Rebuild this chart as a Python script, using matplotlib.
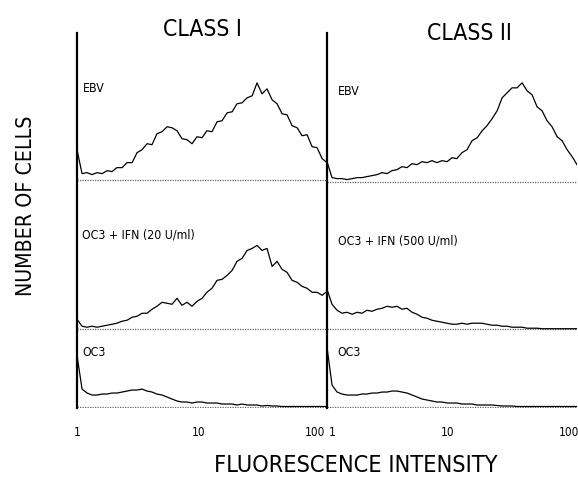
import matplotlib
matplotlib.use("Agg")
import matplotlib.pyplot as plt

plt.rcParams['font.family'] = ['DejaVu Sans']
plt.rcParams['font.stretch'] = 'condensed'

# fluorescence channels (log scale, 1 .. ~114)
fluor = [1.00, 1.10, 1.21, 1.33, 1.46, 1.61, 1.77, 1.94, 2.13, 2.35,
         2.58, 2.84, 3.12, 3.43, 3.77, 4.14, 4.55, 5.01, 5.51, 6.05,
         6.65, 7.31, 8.04, 8.84, 9.72, 10.7, 11.7, 12.9, 14.2, 15.6,
         17.2, 18.9, 20.7, 22.8, 25.1, 27.6, 30.3, 33.3, 36.6, 40.3,
         44.3, 48.7, 53.5, 58.8, 64.7, 71.1, 78.2, 86.0, 94.5, 104, 114]

# number of cells (arbitrary units), class I column
ebv_1 = [30, 6, 7, 5, 7, 6, 9, 8, 12, 12, 17, 17, 27, 30, 36, 35, 46, 48, 53, 52,
         49, 41, 40, 36, 43, 42, 49, 48, 58, 59, 67, 68, 76, 77, 82, 84, 97, 86, 91, 80,
         76, 66, 65, 54, 52, 44, 45, 33, 32, 21, 17]
ifn20_1 = [10, 3, 2, 3, 2, 3, 4, 5, 6, 8, 9, 12, 13, 16, 16, 20, 23, 27, 26, 25,
           31, 24, 27, 23, 28, 31, 37, 41, 49, 50, 54, 59, 68, 71, 79, 81, 84, 79, 81, 63,
           68, 60, 57, 49, 47, 43, 41, 37, 37, 34, 38]
oc3_1 = [52, 18, 14, 12, 12, 13, 13, 14, 14, 15, 16, 17, 17, 18, 16, 15, 13, 12, 10, 8,
         6, 5, 5, 4, 5, 5, 4, 4, 4, 3, 3, 3, 2, 3, 2, 2, 2, 1, 1.5, 1,
         1, 0.5, 0.5, 0.5, 0.5, 0.5, 0.5, 0.5, 0.5, 0.5, 0.5]

# class II column
ebv_2 = [20, 4, 3, 3, 2, 3, 4, 4, 5, 6, 7, 9, 8, 11, 12, 15, 14, 18, 17, 20,
         19, 21, 19, 21, 20, 24, 23, 29, 32, 41, 44, 51, 56, 63, 71, 84, 89, 94, 94, 99,
         91, 87, 75, 71, 61, 55, 45, 41, 32, 25, 17]
ifn500_2 = [40, 25, 19, 16, 17, 15, 17, 16, 19, 18, 20, 21, 23, 22, 23, 20, 21, 17, 15, 12,
            11, 9, 8, 7, 6, 5, 5, 6, 5, 6, 6, 6, 5, 4, 4, 3, 3, 2, 2, 2,
            1, 1, 1, 0.5, 0.5, 0.5, 0.5, 0.5, 0.5, 0.5, 0.5]
oc3_2 = [60, 22, 15, 13, 12, 12, 12, 13, 13, 14, 14, 15, 15, 16, 16, 15, 14, 12, 10, 8,
         7, 6, 5, 5, 4, 4, 4, 3, 3, 3, 2, 2, 2, 2, 1.5, 1, 1, 1, 0.5, 0.5,
         0.5, 0.5, 0.5, 0.5, 0.5, 0.5, 0.5, 0.5, 0.5, 0.5, 0.5]

titles = ["CLASS I", "CLASS II"]
row_labels = [["EBV", "OC3 + IFN (20 U/ml)", "OC3"],
              ["EBV", "OC3 + IFN (500 U/ml)", "OC3"]]
tick_text = ["1", "10", "100"]
series = [[ebv_1, ifn20_1, oc3_1], [ebv_2, ifn500_2, oc3_2]]
offsets = [[228, 78, 0], [226, 78, 0]]
label_y = [[0.851, 0.461, 0.147], [0.843, 0.445, 0.149]]
label_x = [0.022, 0.042]
title_pos = [(0.50, 1.008), (0.568, 1.0)]
tick_pos = [[0.0, 0.488, 0.952], [0.02, 0.484, 0.968]]

fig = plt.figure(figsize=(5.78, 4.87), dpi=100)
W, H = 578.0, 487.0
axes = [fig.add_axes([77 / W, (H - 408) / H, 250 / W, 375 / H]),
        fig.add_axes([327 / W, (H - 408) / H, 250 / W, 375 / H])]

for c, ax in enumerate(axes):
    ax.set_xscale('log')
    ax.set_xlim(1, 114)
    ax.set_ylim(-1, 375)
    for r in range(3):
        base = offsets[c][r]
        ax.axhline(base, color='#666666', lw=0.9, ls=(0, (1, 1)), zorder=1)
        ax.plot(fluor, [base + v for v in series[c][r]], color='black', lw=0.9, zorder=2)
        ax.text(label_x[c], label_y[c][r], row_labels[c][r], transform=ax.transAxes,
                fontsize=8.8, va='center', ha='left')
    for s in ['top', 'right', 'bottom']:
        ax.spines[s].set_visible(False)
    ax.spines['left'].set_linewidth(1.6)
    ax.set_yticks([])
    ax.set_xticks([])
    ax.minorticks_off()
    for tx, lab in zip(tick_pos[c], tick_text):
        ax.text(tx, -0.064, lab, transform=ax.transAxes, fontsize=8.5,
                ha='center', va='center')
    ax.text(title_pos[c][0], title_pos[c][1], titles[c], transform=ax.transAxes,
            fontsize=16.5, ha='center', va='center')

fig.text(26 / W, 1 - 206 / H, "NUMBER OF CELLS", rotation=90, fontsize=15.3,
         ha='center', va='center')
fig.text(356 / W, 1 - 466 / H, "FLUORESCENCE INTENSITY", fontsize=16.8,
         ha='center', va='center')

fig.savefig("out.png", dpi=100)
